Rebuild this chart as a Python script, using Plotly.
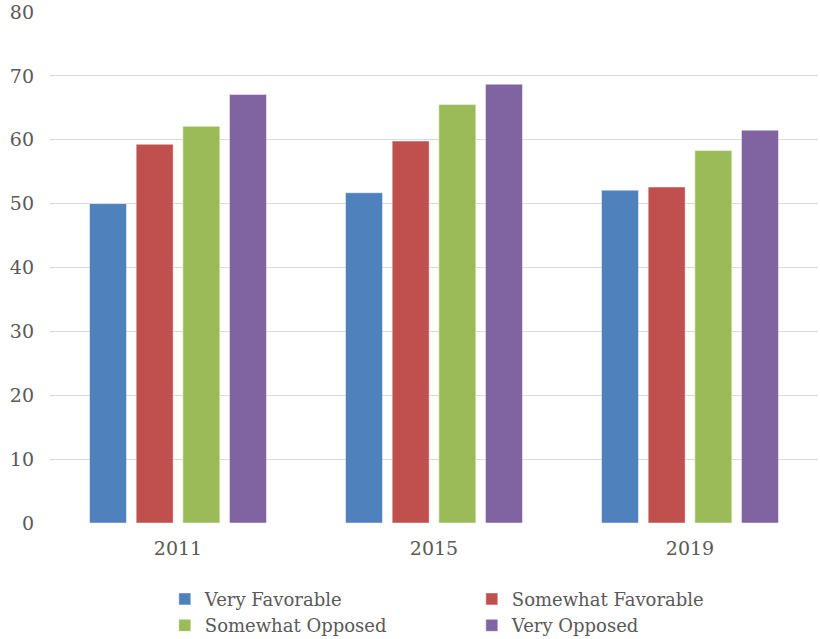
import plotly.graph_objects as go

years = ["2011", "2015", "2019"]
series_names = ["Very Favorable", "Somewhat Favorable", "Somewhat Opposed", "Very Opposed"]
very_favorable = [50.0, 51.7, 52.1]
somewhat_favorable = [59.3, 59.8, 52.6]
somewhat_opposed = [62.1, 65.5, 58.3]
very_opposed = [67.1, 68.7, 61.5]
y_ticks = [0, 10, 20, 30, 40, 50, 60, 70, 80]

colors = ["#4F81BD", "#C0504D", "#9BBB59", "#8064A2"]
values = [very_favorable, somewhat_favorable, somewhat_opposed, very_opposed]

font_family = "DejaVu Serif"
text_color = "#595959"

fig = go.Figure()
for name, vals, col in zip(series_names, values, colors):
    fig.add_trace(go.Bar(
        x=years, y=vals, name=name,
        marker=dict(color=col, line=dict(color="rgba(255,255,255,0.6)", width=0.8)),
    ))

fig.update_layout(
    width=820, height=639,
    margin=dict(l=50, r=2, t=12, b=116, autoexpand=False),
    paper_bgcolor="white", plot_bgcolor="white",
    barmode="group", bargap=0.271, bargroupgap=0.207,
    font=dict(family=font_family, color=text_color, size=18),
    xaxis=dict(showline=False, ticks="", tickfont=dict(size=19), ticklabelstandoff=12),
    yaxis=dict(range=[0, 80], tickvals=y_ticks, showgrid=True, gridcolor="#D9D9D9",
               gridwidth=1, zeroline=False, showline=False, ticks="",
               tickfont=dict(size=19), ticklabelstandoff=15),
    legend=dict(orientation="h", x=0.1495, xanchor="left", y=-0.113, yanchor="top",
                entrywidth=262, entrywidthmode="pixels", tracegroupgap=0,
                font=dict(size=18, color=text_color)),
    showlegend=True,
)

fig.write_html("out.html")
